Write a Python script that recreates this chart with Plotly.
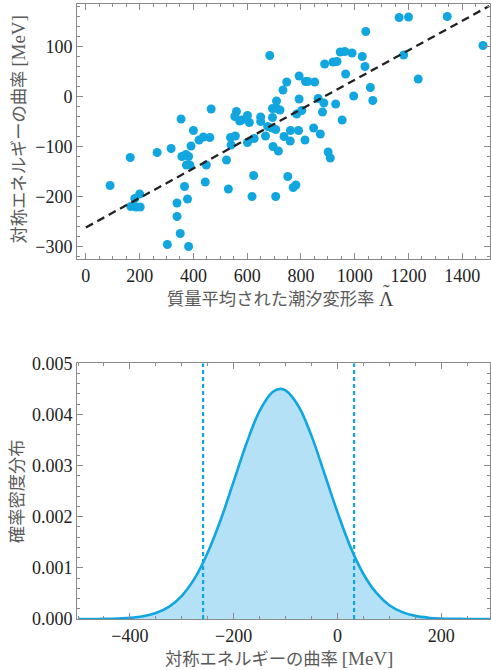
import plotly.graph_objects as go

# ---------------- data: scatter (tidal deformability vs symmetry-energy curvature)
lam = [90, 165, 167, 187, 202, 182, 200, 265, 317, 354, 400, 421, 437, 461, 391,
       357, 372, 382, 374, 387, 448, 444, 367, 378, 339, 339, 351, 303, 382,
       466, 523, 530, 538, 556, 540, 560, 554, 572, 579, 601, 608, 626, 601, 624,
       618, 650, 650, 668, 676, 693, 706, 694, 709, 722, 709, 694, 696, 716, 706,
       733, 747, 737, 761, 760, 751, 771, 781, 791, 793, 793, 784, 803, 815, 817,
       825, 851, 847, 872, 864, 885, 880, 888, 901, 909, 684,
       919, 934, 946, 963, 990, 1028, 966, 929, 953, 996, 1038, 1041, 1058, 1067,
       1165, 1200, 1344, 1182, 1236, 1477]
ksym = [-178, -122, -220, -221, -221, -204, -195, -112, -104, -45, -68, -87, -81, -82, -99,
        -120, -116, -120, -137, -137, -137, -171, -180, -205, -213, -240, -274, -296, -300,
        -25, -127, -185, -82, -79, -97, -30, -40, -49, -47, -38, -52, -84, -92, -158,
        -200, -41, -50, -79, -60, -63, -66, -24, -9, -27, -24, -42, -100, -109, -200,
        13, 29, -80, -68, -89, -160, -182, -177, -68, -5, 41, -35, -28, -87, 30,
        30, 29, -63, -75, -4, -13, -31, 65, -111, -123, 82,
        69, 70, 89, 90, 87, 80, 45, -15, -47, 1, 60, 130, 18, -8,
        158, 159, 160, 83, 35, 102]
fit_x = [0, 1500]
fit_y = [-262, 181]

# ---------------- data: probability density
k_grid = [-500, -475, -450, -425, -400, -375, -350, -325, -300, -275, -250, -225, -200,
          -175, -150, -125, -110, -100, -75, -50, -25, 0, 25, 50, 75, 100, 125, 150,
          175, 200, 225, 250, 275, 300]
pdf = [0.0, 0.0, 0.000003, 0.000009, 0.000022, 0.000052, 0.000116, 0.000238, 0.000454,
       0.000798, 0.00130, 0.00194, 0.00269, 0.00344, 0.00407, 0.00444, 0.00450, 0.00447,
       0.00416, 0.00358, 0.00284, 0.00209, 0.00141, 0.00088, 0.00051, 0.00027, 0.000135,
       0.000061, 0.000026, 0.00001, 0.000004, 0.0, 0.0, 0.0]
ci_bounds = [-259, 32]

BLUE = "#12A6E0"
FILL = "#B4E1F6"
GRAY = "#8a8a8a"
SERIF = "Liberation Serif"
JP = "Noto Sans CJK JP"

fig = go.Figure()
fig.add_trace(go.Scatter(x=lam, y=ksym, mode="markers", xaxis="x", yaxis="y",
                         marker=dict(color=BLUE, size=9, line=dict(width=0)),
                         showlegend=False))
fig.add_trace(go.Scatter(x=fit_x, y=fit_y, mode="lines", xaxis="x", yaxis="y",
                         line=dict(color="#222222", width=2.3, dash="8px,5px"),
                         showlegend=False))
fig.add_trace(go.Scatter(x=k_grid, y=pdf, mode="lines", xaxis="x2", yaxis="y2",
                         fill="tozeroy", fillcolor=FILL,
                         line=dict(color=BLUE, width=2.6, shape="spline"),
                         showlegend=False))
for b in ci_bounds:
    fig.add_trace(go.Scatter(x=[b, b], y=[0, 0.005], mode="lines", xaxis="x2", yaxis="y2",
                             line=dict(color=BLUE, width=2.2, dash="4px,3px"),
                             showlegend=False))


def axis(**kw):
    base = dict(showline=True, linecolor=GRAY, linewidth=1, mirror="allticks",
                ticks="inside", ticklen=6, tickcolor=GRAY, tickwidth=1,
                showgrid=False, zeroline=False, automargin=False,
                tickfont=dict(family=SERIF, size=18, color="#222"))
    base.update(kw)
    return base


fig.update_layout(
    width=491, height=670,
    margin=dict(l=77, r=1, t=4, b=51),
    font=dict(family=SERIF, size=18, color="#222"),
    paper_bgcolor="white", plot_bgcolor="white",
    xaxis=axis(domain=[0, 1], anchor="y", range=[-33, 1503],
               tickvals=[0, 200, 400, 600, 800, 1000, 1200, 1400],
               minor=dict(dtick=50, tick0=0, ticks="inside", ticklen=3, tickcolor=GRAY)),
    yaxis=axis(domain=[0.5854, 1], anchor="x", range=[-325, 185],
               tickvals=[-300, -200, -100, 0, 100],
               minor=dict(dtick=20, tick0=0, ticks="inside", ticklen=3, tickcolor=GRAY)),
    xaxis2=axis(domain=[0, 1], anchor="y2", range=[-502, 294],
                tickvals=[-400, -200, 0, 200],
                minor=dict(dtick=50, tick0=0, ticks="inside", ticklen=3, tickcolor=GRAY)),
    yaxis2=axis(domain=[0, 0.4158], anchor="x2", range=[0, 0.005],
                tickvals=[0, 0.001, 0.002, 0.003, 0.004, 0.005],
                ticktext=["0.000", "0.001", "0.002", "0.003", "0.004", "0.005"],
                minor=dict(dtick=0.0002, tick0=0, ticks="inside", ticklen=3, tickcolor=GRAY)),
)

title_font = dict(family=JP, size=17.3, color="#5a5a5a")
mev = "<span style='font-family:Liberation Serif;font-size:19px'>[MeV]</span>"

# top x title: Japanese text + tilde-Lambda
fig.add_annotation(text="質量平均された潮汐変形率",
                   xref="paper", yref="paper", x=0, xshift=88, y=0.5854, yshift=-39,
                   xanchor="left", yanchor="middle", showarrow=False, font=title_font)
fig.add_annotation(text="Λ", xref="paper", yref="paper", x=0, xshift=309,
                   y=0.5854, yshift=-40, xanchor="center", yanchor="middle",
                   showarrow=False, font=dict(family=SERIF, size=20, color="#444"))
fig.add_annotation(text="˜", xref="paper", yref="paper", x=0, xshift=309,
                   y=0.5854, yshift=-33, xanchor="center", yanchor="middle",
                   showarrow=False, font=dict(family=SERIF, size=20, color="#444"))

fig.add_annotation(text="対称エネルギーの曲率 " + mev,
                   xref="paper", yref="paper", x=0, xshift=-60, y=0.7927, yshift=2,
                   xanchor="center", yanchor="middle", textangle=-90, showarrow=False,
                   font=title_font)
fig.add_annotation(text="確率密度分布",
                   xref="paper", yref="paper", x=0, xshift=-62, y=0.2079,
                   xanchor="center", yanchor="middle", textangle=-90, showarrow=False,
                   font=title_font)
fig.add_annotation(text="対称エネルギーの曲率 " + mev,
                   xref="paper", yref="paper", x=0.49, y=0, yshift=-38,
                   xanchor="center", yanchor="middle", showarrow=False, font=title_font)

fig.write_html("out.html", config={"displayModeBar": False},
               post_script="document.body.style.margin='0';")
